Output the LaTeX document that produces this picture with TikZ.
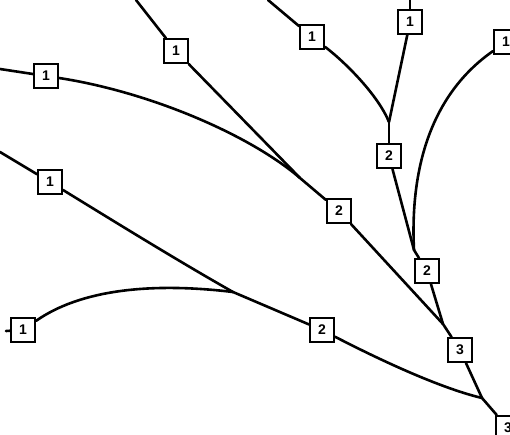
\documentclass[tikz,border=0pt]{standalone}
\usepackage{fontspec}
\setmainfont{Liberation Sans}
\begin{document}
\begin{tikzpicture}[x=1pt,y=-1pt,
  ord/.style={draw, line width=2pt, fill=white, minimum size=24pt, inner sep=0pt,
    font=\fontsize{14}{14}\selectfont\bfseries},
  seg/.style={line width=2.6pt, line cap=round, line join=round}]
\useasboundingbox (0,0) rectangle (510,435);
% junctions and free ends
\coordinate (tA) at (136,0);
\coordinate (tB) at (0,69);
\coordinate (tC) at (268,0);
\coordinate (tD) at (410,0);
\coordinate (tF) at (0,152);
\coordinate (tG) at (6,331);
\coordinate (J1) at (300,178);
\coordinate (J2) at (389,122);
\coordinate (J3) at (414,250);
\coordinate (J4) at (443,324);
\coordinate (J5) at (482,398);
\coordinate (J6) at (233,292);
% boxes
\node[ord] (A) at (176,51) {1};
\node[ord] (B) at (46,76) {1};
\node[ord] (C) at (312,37) {1};
\node[ord] (D) at (410,22) {1};
\node[ord] (E) at (506,42) {1};
\node[ord] (F) at (50,182) {1};
\node[ord] (G) at (23,330) {1};
\node[ord] (M2a) at (339,211) {2};
\node[ord] (M2b) at (389,156) {2};
\node[ord] (M2c) at (427,271) {2};
\node[ord] (M2d) at (322,330) {2};
\node[ord] (T3) at (460,350) {3};
\node[ord] (T3b) at (508,428) {3};
% streams
\draw[seg] (tA) -- (A);
\draw[seg] (tB) -- (B);
\draw[seg] (tC) -- (C);
\draw[seg] (tD) -- (D);
\draw[seg] (tF) -- (F);
\draw[seg] (tG) -- (G);
\draw[seg] (A) -- (J1);
\draw[seg] (B) .. controls (150,92) and (250,135) .. (J1);
\draw[seg] (J1) -- (M2a);
\draw[seg] (C) .. controls (345,62) and (378,95) .. (J2);
\draw[seg] (D) -- (J2);
\draw[seg] (J2) -- (M2b);
\draw[seg] (E) .. controls (430,95) and (410,170) .. (J3);
\draw[seg] (M2b) -- (J3);
\draw[seg] (J3) -- (M2c);
\draw[seg] (M2a) -- (J4);
\draw[seg] (M2c) -- (J4);
\draw[seg] (J4) -- (T3);
\draw[seg] (F) .. controls (120,225) and (180,262) .. (J6);
\draw[seg] (G) .. controls (80,290) and (150,282) .. (J6);
\draw[seg] (J6) -- (M2d);
\draw[seg] (M2d) .. controls (380,360) and (440,388) .. (J5);
\draw[seg] (T3) -- (J5);
\draw[seg] (J5) -- (T3b);
\end{tikzpicture}
\end{document}
